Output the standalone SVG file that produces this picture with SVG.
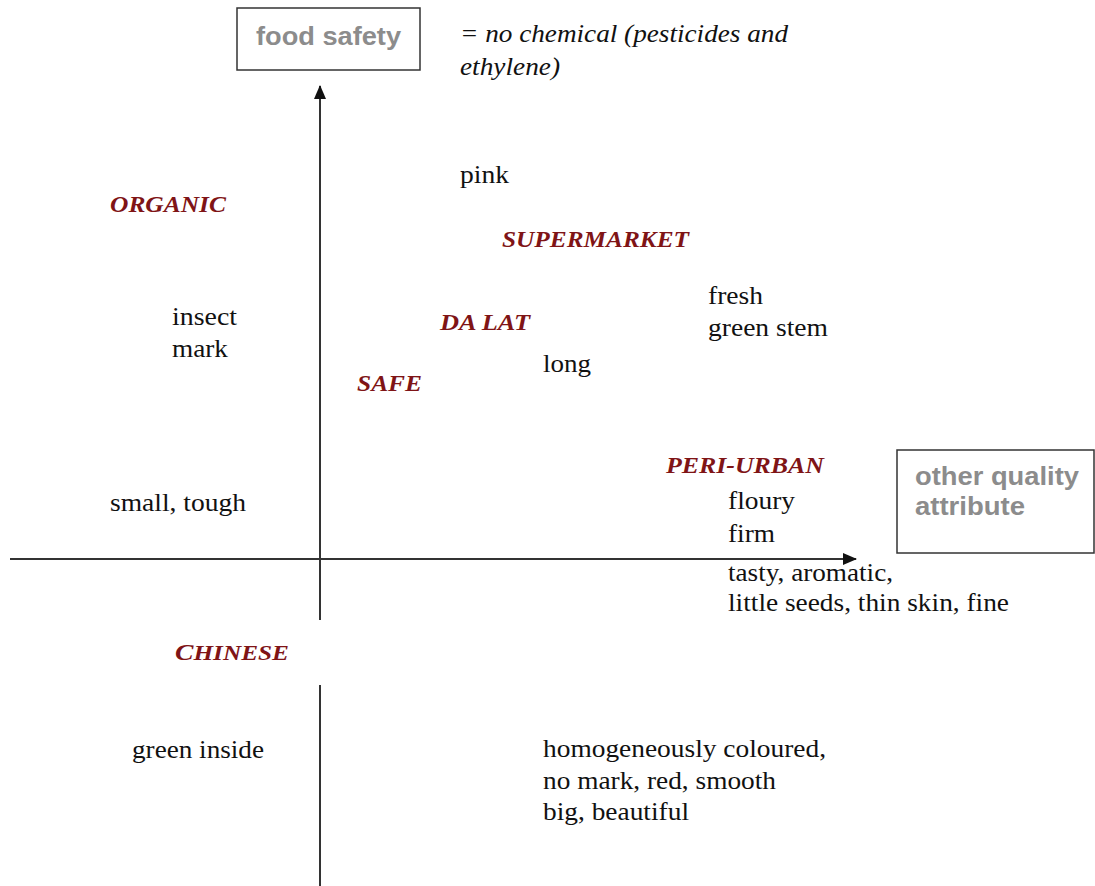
<svg xmlns="http://www.w3.org/2000/svg" width="1095" height="886" viewBox="0 0 1095 886">
<style>
.bg{fill:#fff}
.box{fill:#fff;stroke:#333;stroke-width:1.5}
.axis{stroke:#333;stroke-width:2;fill:none}
.boxt{font-family:"Liberation Sans",Arial,sans-serif;font-weight:bold;font-size:26px;fill:#8c8c8c}
.note{font-family:"Liberation Serif","Times New Roman",serif;font-style:italic;font-size:25px;fill:#111}
.attr{font-family:"Liberation Serif","Times New Roman",serif;font-size:25px;fill:#111}
.cat{font-family:"Liberation Serif","Times New Roman",serif;font-style:italic;font-weight:bold;font-size:23px;fill:#7f1416}
</style>
<defs>
<marker id="ah" markerWidth="14" markerHeight="12" refX="13" refY="6" orient="auto" markerUnits="userSpaceOnUse" viewBox="0 0 14 12">
<path d="M0,0 L14,6 L0,12 z" fill="#111"/>
</marker>
</defs>
<rect class="bg" x="0" y="0" width="1095" height="886"/>
<g id="connectors">
<line class="axis" x1="320" y1="620" x2="320" y2="86" marker-end="url(#ah)"/>
<line class="axis" x1="320" y1="685" x2="320" y2="886"/>
<line class="axis" x1="10" y1="559" x2="856" y2="559" marker-end="url(#ah)"/>
</g>
<g id="food-safety">
<rect class="box" x="237" y="8" width="183" height="62"/>
<text class="boxt" x="256" y="45" textLength="145" lengthAdjust="spacingAndGlyphs">food safety</text>
</g>
<g id="note">
<text class="note" x="460" y="42" textLength="328" lengthAdjust="spacingAndGlyphs">= no chemical (pesticides and</text>
<text class="note" x="460" y="75" textLength="100" lengthAdjust="spacingAndGlyphs">ethylene)</text>
</g>
<g id="other-quality">
<rect class="box" x="897" y="450" width="197" height="103"/>
<text class="boxt" x="915" y="485" textLength="164" lengthAdjust="spacingAndGlyphs">other quality</text>
<text class="boxt" x="915" y="515" textLength="110" lengthAdjust="spacingAndGlyphs">attribute</text>
</g>
<g id="organic"><text class="cat" x="110" y="212" textLength="116" lengthAdjust="spacingAndGlyphs">ORGANIC</text></g>
<g id="supermarket"><text class="cat" x="502" y="247" textLength="187" lengthAdjust="spacingAndGlyphs">SUPERMARKET</text></g>
<g id="dalat"><text class="cat" x="440" y="330" textLength="90" lengthAdjust="spacingAndGlyphs">DA LAT</text></g>
<g id="safe"><text class="cat" x="357" y="391" textLength="65" lengthAdjust="spacingAndGlyphs">SAFE</text></g>
<g id="periurban"><text class="cat" x="666" y="473" textLength="158" lengthAdjust="spacingAndGlyphs">PERI-URBAN</text></g>
<g id="chinese"><text class="cat" x="175" y="660" font-size="27" textLength="114" lengthAdjust="spacingAndGlyphs">C<tspan font-size="21">HINESE</tspan></text></g>
<g id="pink"><text class="attr" x="460" y="183" textLength="49" lengthAdjust="spacingAndGlyphs">pink</text></g>
<g id="insect"><text class="attr" x="172" y="325" textLength="65" lengthAdjust="spacingAndGlyphs">insect</text><text class="attr" x="172" y="357" textLength="56" lengthAdjust="spacingAndGlyphs">mark</text></g>
<g id="fresh"><text class="attr" x="708" y="304" textLength="55" lengthAdjust="spacingAndGlyphs">fresh</text><text class="attr" x="708" y="336" textLength="120" lengthAdjust="spacingAndGlyphs">green stem</text></g>
<g id="long"><text class="attr" x="543" y="372" textLength="48" lengthAdjust="spacingAndGlyphs">long</text></g>
<g id="small"><text class="attr" x="110" y="511" textLength="136" lengthAdjust="spacingAndGlyphs">small, tough</text></g>
<g id="floury"><text class="attr" x="728" y="509" textLength="67" lengthAdjust="spacingAndGlyphs">floury</text><text class="attr" x="728" y="542" textLength="47" lengthAdjust="spacingAndGlyphs">firm</text></g>
<g id="tasty"><text class="attr" x="728" y="581" textLength="165" lengthAdjust="spacingAndGlyphs">tasty, aromatic,</text><text class="attr" x="728" y="611" textLength="281" lengthAdjust="spacingAndGlyphs">little seeds, thin skin, fine</text></g>
<g id="green-inside"><text class="attr" x="132" y="758" textLength="132" lengthAdjust="spacingAndGlyphs">green inside</text></g>
<g id="homog"><text class="attr" x="543" y="757" textLength="283" lengthAdjust="spacingAndGlyphs">homogeneously coloured,</text><text class="attr" x="543" y="789" textLength="233" lengthAdjust="spacingAndGlyphs">no mark, red, smooth</text><text class="attr" x="543" y="820" textLength="146" lengthAdjust="spacingAndGlyphs">big, beautiful</text></g>
</svg>
